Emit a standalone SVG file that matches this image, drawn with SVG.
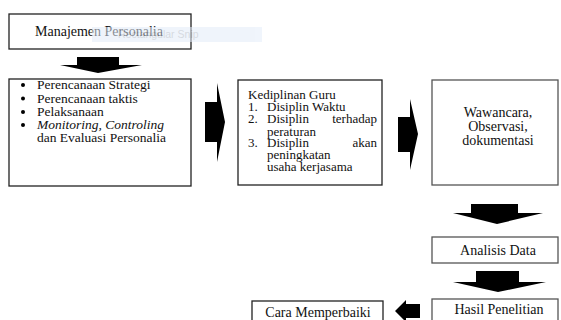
<svg xmlns="http://www.w3.org/2000/svg" width="561" height="320" viewBox="0 0 561 320">
<style>
.box{fill:#fff;stroke:#222;stroke-width:1.3}
.gbox{fill:#fff;stroke:#555;stroke-width:1.3}
.t{font-family:"Liberation Serif","Times New Roman",serif;font-size:14px;fill:#111}
.t2{font-family:"Liberation Serif","Times New Roman",serif;font-size:13.5px;fill:#111}
.t3{font-family:"Liberation Serif","Times New Roman",serif;font-size:13px;fill:#111}
.c{text-anchor:middle}
.arr{fill:#000}
</style>
<rect width="561" height="320" fill="#fff"/>
<g id="n1">
<rect class="box" x="9" y="14" width="182" height="35"/>
<text class="t" x="35" y="36">Manajemen Personalia</text>
</g>
<g id="snip" opacity="0.55">
<rect x="92" y="27" width="170" height="15" fill="#e3ecf9"/>
<text x="118" y="38" font-family="Liberation Sans, Arial, sans-serif" font-size="10.5" fill="#b5bcc8">Rectangular Snip</text>
</g>
<g id="n2">
<rect class="box" x="9" y="79" width="182" height="107"/>
<circle cx="23" cy="85" r="2"/>
<circle cx="23" cy="98.5" r="2"/>
<circle cx="23" cy="112" r="2"/>
<circle cx="23" cy="125" r="2"/>
<text class="t2" x="37" y="89">Perencanaan Strategi</text>
<text class="t2" x="37" y="102.5">Perencanaan taktis</text>
<text class="t2" x="37" y="116">Pelaksanaan</text>
<text class="t2" x="37" y="129"><tspan font-style="italic">Monitoring, Controling</tspan></text>
<text class="t2" x="37" y="142">dan Evaluasi Personalia</text>
</g>
<g id="n3">
<rect class="box" x="238" y="80" width="144" height="105"/>
<text class="t3" x="248" y="99">Kediplinan Guru</text>
<text class="t3" x="248" y="111">1.</text>
<text class="t3" x="267" y="111">Disiplin Waktu</text>
<text class="t3" x="248" y="123">2.</text>
<text class="t3" x="267" y="123">Disiplin</text>
<text class="t3" x="377" y="123" text-anchor="end">terhadap</text>
<text class="t3" x="267" y="135.5">peraturan</text>
<text class="t3" x="248" y="147">3.</text>
<text class="t3" x="267" y="147">Disiplin</text>
<text class="t3" x="377" y="147" text-anchor="end">akan</text>
<text class="t3" x="267" y="159">peningkatan</text>
<text class="t3" x="267" y="171">usaha kerjasama</text>
</g>
<g id="n4">
<rect class="gbox" x="432" y="80" width="126" height="105"/>
<text class="t c" x="498" y="117">Wawancara,</text>
<text class="t c" x="498" y="131">Observasi,</text>
<text class="t c" x="498" y="145">dokumentasi</text>
</g>
<g id="n5">
<rect class="gbox" x="432" y="237" width="126" height="26"/>
<text class="t c" x="498" y="255">Analisis Data</text>
</g>
<g id="n6">
<rect class="gbox" x="432" y="299" width="126" height="30"/>
<text class="t c" x="499" y="314">Hasil Penelitian</text>
</g>
<g id="n7">
<rect class="box" x="252" y="301" width="131" height="30"/>
<text class="t c" x="318" y="317">Cara Memperbaiki</text>
</g>
<g id="connectors">
<polygon class="arr" points="77,57 119,57 119,65 142,65 98,73 60,65 77,65"/>
<polygon class="arr" points="205,102 217,102 217,83 225,122 217,162 217,142 205,142"/>
<polygon class="arr" points="398,117 410,117 410,99 418,134 410,170 410,152 398,152"/>
<polygon class="arr" points="471,204 518,204 518,213 543,213 497,224 453,213 471,213"/>
<polygon class="arr" points="476,271 519,271 519,282 546,282 498,292 453,282 476,282"/>
<polygon class="arr" points="420,304 406,304 406,300 395,311 406,322 406,318 420,318"/>
</g>
</svg>
